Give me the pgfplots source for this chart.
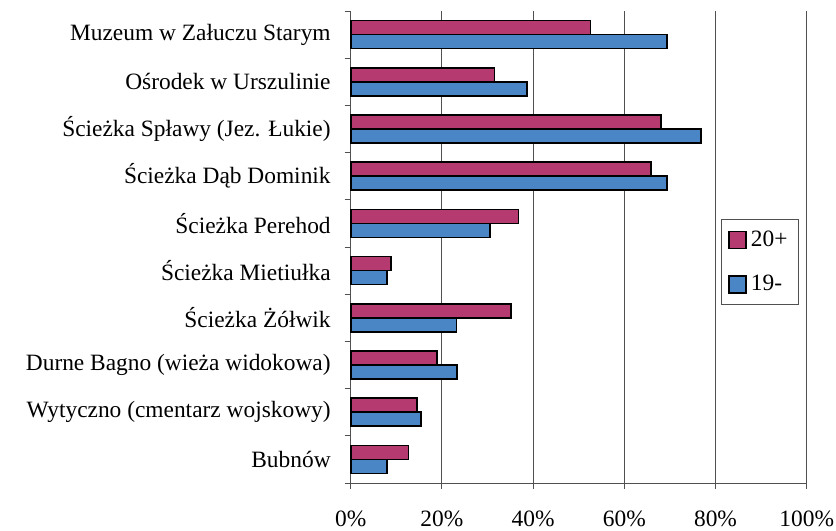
\documentclass[border=0pt]{standalone}
\usepackage{pgfplots}
\pgfplotsset{compat=1.18}
\usepackage{fontspec}
\setmainfont{Liberation Serif}
\definecolor{cmag}{RGB}{180,58,112}
\definecolor{cblue}{RGB}{74,134,198}
\definecolor{cgrid}{RGB}{80,80,80}
\newcommand{\lf}{\fontsize{11.7bp}{14bp}\selectfont}
\begin{document}
\begin{tikzpicture}
\path[use as bounding box] (0,0) rectangle (418bp,265.5bp);
\begin{axis}[
  at={(175.35bp,24bp)}, anchor=south west,
  scale only axis, width=228bp, height=236bp,
  xbar, bar width=7bp,
  xmin=0, xmax=100, ymin=-0.5, ymax=9.5,
  axis x line*=bottom, axis y line*=left,
  axis line style={cgrid, line width=0.5bp},
  xtick={0,20,...,100},
  xticklabel={\pgfmathprintnumber{\tick}\%},
  /pgf/number format/assume math mode=true,
  xmajorgrids, major grid style={cgrid, line width=0.5bp},
  tick style={cgrid, line width=0.5bp},
  tick align=outside, major tick length=3bp,
  ytick={0,...,9},
  yticklabels={Bubnów, Wytyczno (cmentarz wojskowy), Durne Bagno (wieża widokowa), Ścieżka Żółwik, Ścieżka Mietiułka, Ścieżka Perehod, Ścieżka Dąb Dominik, Ścieżka Spławy (Jez. Łukie), Ośrodek w Urszulinie, Muzeum w Załuczu Starym},
  ytick style={draw=none},
  extra y ticks={-0.5,0.5,...,9.5},
  extra y tick labels={},
  extra y tick style={ytick style={draw=cgrid}, major tick length=3bp, tick align=outside},
  yticklabel style={font=\lf, xshift=-3.5bp},
  xticklabel style={font=\lf, yshift=-7.5bp},
  clip=false,
  legend style={at={(0.983,0.559)}, anchor=north east, draw=cgrid, line width=0.5bp,
    font=\lf, row sep=9bp, inner sep=3.5bp, cells={anchor=west}},
  legend cell align=left,
  legend image code/.code={\draw[#1, draw=black, line width=0.8bp] (0bp,-4.25bp) rectangle (8.5bp,4.25bp);},
]
\addplot[fill=cmag, draw=black, line width=0.8bp, bar shift=3.5bp] coordinates {
(52.6,9) (31.5,8) (68.0,7) (65.8,6) (36.8,5) (8.8,4) (35.2,3) (18.9,2) (14.5,1) (12.7,0)};
\addplot[fill=cblue, draw=black, line width=0.8bp, bar shift=-3.5bp] coordinates {
(69.3,9) (38.6,8) (76.8,7) (69.3,6) (30.6,5) (7.9,4) (23.2,3) (23.3,2) (15.4,1) (7.9,0)};
\legend{20+,19-}
\end{axis}
\end{tikzpicture}
\end{document}
